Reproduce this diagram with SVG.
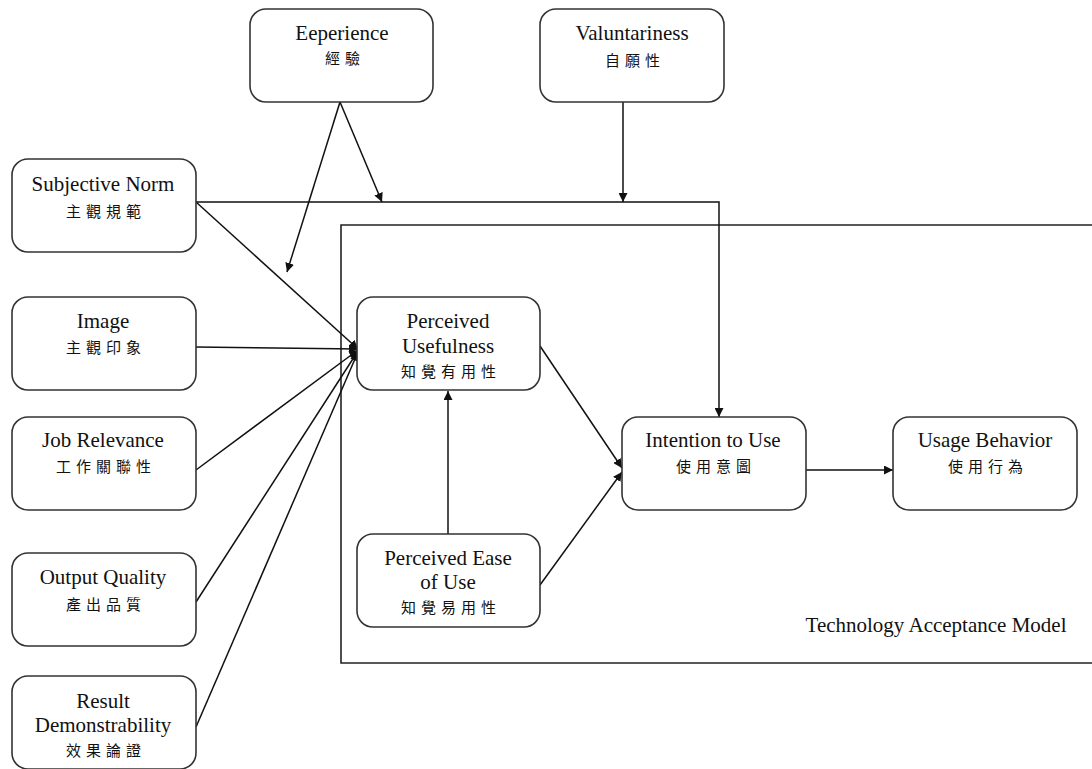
<svg xmlns="http://www.w3.org/2000/svg" width="1092" height="769" viewBox="0 0 1092 769">
  <style>
    .box { fill: #ffffff; stroke: #333333; stroke-width: 1.6; }
    .frame { fill: none; stroke: #222222; stroke-width: 1.6; }
    .en { font-family: "Liberation Serif", "Times New Roman", serif; font-size: 21px; fill: #111111; text-anchor: middle; }
    .zh { font-family: "Noto Sans CJK TC", "Noto Sans CJK SC", sans-serif; font-size: 15px; letter-spacing: 5px; fill: #111111; text-anchor: middle; }
    .conn line, .conn polyline { stroke: #111111; stroke-width: 1.5; fill: none; }
  </style>
  <defs>
    <marker id="arrow" viewBox="0 0 10 10" refX="10" refY="5" markerWidth="9" markerHeight="9" markerUnits="userSpaceOnUse" orient="auto">
      <path d="M0,0 L10,5 L0,10 z" fill="#111111"/>
    </marker>
  </defs>
  <rect width="1092" height="769" fill="#ffffff"/>

  <!-- TAM frame -->
  <g id="tam-frame">
    <polyline class="frame" points="1094,225 341,225 341,663 1094,663"/>
    <text class="en" x="936" y="632">Technology Acceptance  Model</text>
  </g>

  <!-- connectors -->
  <g id="connectors" class="conn">
    <polyline points="196,202 719,202 719,417" marker-end="url(#arrow)"/>
    <line x1="340" y1="102" x2="382" y2="202" marker-end="url(#arrow)"/>
    <line x1="340" y1="102" x2="287" y2="272" marker-end="url(#arrow)"/>
    <line x1="623" y1="102" x2="623" y2="202" marker-end="url(#arrow)"/>
    <line x1="196" y1="202" x2="358" y2="349" marker-end="url(#arrow)"/>
    <line x1="196" y1="347" x2="358" y2="349" marker-end="url(#arrow)"/>
    <line x1="196" y1="470" x2="358" y2="350" marker-end="url(#arrow)"/>
    <line x1="196" y1="602" x2="358" y2="351" marker-end="url(#arrow)"/>
    <line x1="196" y1="727" x2="358" y2="352" marker-end="url(#arrow)"/>
    <line x1="540" y1="346" x2="622" y2="468" marker-end="url(#arrow)"/>
    <line x1="540" y1="585" x2="622" y2="472" marker-end="url(#arrow)"/>
    <line x1="448" y1="534" x2="448" y2="391" marker-end="url(#arrow)"/>
    <line x1="806" y1="470" x2="893" y2="470" marker-end="url(#arrow)"/>
  </g>

  <!-- nodes -->
  <g id="experience">
    <rect class="box" x="250" y="9" width="183" height="93" rx="16"/>
    <text class="en" x="342" y="40">Eeperience</text>
    <text class="zh" x="345" y="64">經驗</text>
  </g>
  <g id="voluntariness">
    <rect class="box" x="540" y="9" width="184" height="93" rx="16"/>
    <text class="en" x="632" y="40">Valuntariness</text>
    <text class="zh" x="635" y="66">自願性</text>
  </g>
  <g id="subjective-norm">
    <rect class="box" x="12" y="159" width="184" height="93" rx="16"/>
    <text class="en" x="103" y="191">Subjective Norm</text>
    <text class="zh" x="106" y="217">主觀規範</text>
  </g>
  <g id="image">
    <rect class="box" x="12" y="297" width="184" height="93" rx="16"/>
    <text class="en" x="103" y="328">Image</text>
    <text class="zh" x="106" y="353">主觀印象</text>
  </g>
  <g id="job-relevance">
    <rect class="box" x="12" y="417" width="184" height="93" rx="16"/>
    <text class="en" x="103" y="447">Job Relevance</text>
    <text class="zh" x="106" y="472">工作關聯性</text>
  </g>
  <g id="output-quality">
    <rect class="box" x="12" y="553" width="184" height="93" rx="16"/>
    <text class="en" x="103" y="584">Output Quality</text>
    <text class="zh" x="106" y="610">產出品質</text>
  </g>
  <g id="result-demonstrability">
    <rect class="box" x="12" y="676" width="184" height="93" rx="16"/>
    <text class="en" x="103" y="708">Result</text>
    <text class="en" x="103" y="732">Demonstrability</text>
    <text class="zh" x="106" y="756">效果論證</text>
  </g>
  <g id="perceived-usefulness">
    <rect class="box" x="357" y="297" width="183" height="93" rx="16"/>
    <text class="en" x="448" y="328">Perceived</text>
    <text class="en" x="448" y="353">Usefulness</text>
    <text class="zh" x="451" y="377">知覺有用性</text>
  </g>
  <g id="perceived-ease-of-use">
    <rect class="box" x="357" y="534" width="183" height="93" rx="16"/>
    <text class="en" x="448" y="565">Perceived Ease</text>
    <text class="en" x="448" y="589">of Use</text>
    <text class="zh" x="451" y="613">知覺易用性</text>
  </g>
  <g id="intention-to-use">
    <rect class="box" x="622" y="417" width="184" height="93" rx="16"/>
    <text class="en" x="713" y="447">Intention to Use</text>
    <text class="zh" x="716" y="472">使用意圖</text>
  </g>
  <g id="usage-behavior">
    <rect class="box" x="893" y="417" width="184" height="93" rx="16"/>
    <text class="en" x="985" y="447">Usage Behavior</text>
    <text class="zh" x="988" y="472">使用行為</text>
  </g>
</svg>
